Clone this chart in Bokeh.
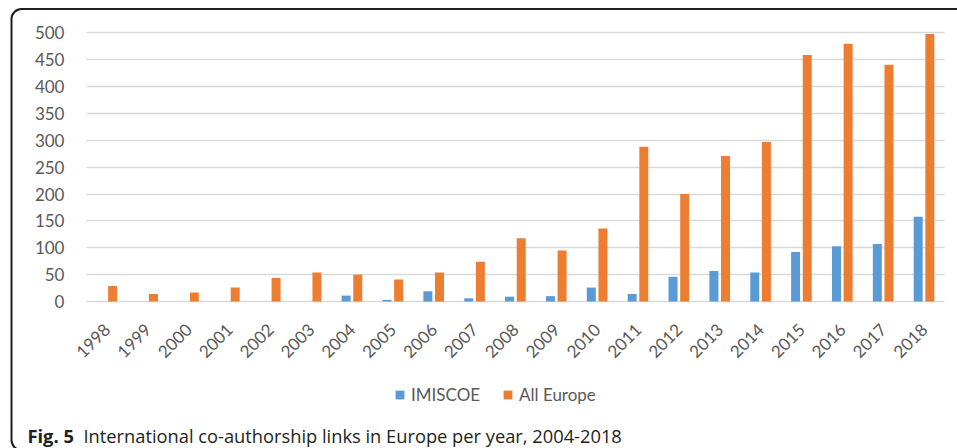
from bokeh.plotting import figure
from bokeh.models import (ColumnDataSource, Range1d, Legend, LegendItem,
                          Label, BoxAnnotation, SingleIntervalTicker, FixedTicker)
from bokeh.transform import dodge
from bokeh.embed import file_html
from bokeh.resources import INLINE
from math import pi

years = [1998, 1999, 2000, 2001, 2002, 2003, 2004, 2005, 2006, 2007, 2008,
         2009, 2010, 2011, 2012, 2013, 2014, 2015, 2016, 2017, 2018]
imiscoe = [0, 0, 0, 0, 0, 0, 11, 3, 19, 6, 9, 10, 26, 14, 46, 57, 54, 92, 103, 107, 158]
all_europe = [29, 14, 17, 26, 44, 54, 50, 41, 54, 74, 118, 95, 136, 288, 200, 271, 297, 459, 480, 441, 498]
series_names = ["IMISCOE", "All Europe"]
y_ticks_max = 500
caption_bold = "Fig. 5"
caption_text = "International co-authorship links in Europe per year, 2004-2018"

BLUE = "#5B9BD5"
ORANGE = "#ED7D31"
TXT = "#595959"
AXFONT = "Lato"
W, H = 957, 448

src = ColumnDataSource(dict(year=years, imiscoe=imiscoe, europe=all_europe))

first, last = years[0] - 0.5, years[-1] + 0.5
p = figure(width=W, height=H,
           x_range=Range1d(years[0] - 2.604, years[-1] + 0.817),
           y_range=Range1d(-273.7, 560.5),
           output_backend="svg", toolbar_location=None, min_border=0)
p.outline_line_color = None
p.background_fill_color = "white"
p.border_fill_color = "white"

r1 = p.vbar(x=dodge("year", -0.145), top="imiscoe", width=0.22,
            source=src, color=BLUE, line_color=None)
r2 = p.vbar(x=dodge("year", 0.14), top="europe", width=0.22,
            source=src, color=ORANGE, line_color=None)

p.xgrid.grid_line_color = None
p.yaxis.ticker = SingleIntervalTicker(interval=50)
p.yaxis.bounds = (0, y_ticks_max)
p.ygrid.bounds = (0, y_ticks_max)
p.ygrid.cross_bounds = (first, last)
p.ygrid.grid_line_color = "#D9D9D9"
p.ygrid.grid_line_width = 1.5

p.xaxis.ticker = FixedTicker(ticks=years)
p.xaxis.bounds = (first, last)
p.xaxis.fixed_location = 0
p.yaxis.fixed_location = first

for ax in (p.xaxis[0], p.yaxis[0]):
    ax.axis_line_color = None
    ax.major_tick_line_color = None
    ax.minor_tick_line_color = None
    ax.major_tick_out = 0
    ax.major_tick_in = 0
    ax.major_label_text_font = AXFONT
    ax.major_label_text_font_size = "17px"
    ax.major_label_text_color = TXT
p.yaxis.major_label_standoff = 18
p.xaxis.major_label_standoff = 25
p.xaxis.major_label_orientation = pi / 4

legend = Legend(items=[LegendItem(label=series_names[0], renderers=[r1]),
                       LegendItem(label=series_names[1], renderers=[r2])],
                orientation="horizontal", location=(394, 43),
                glyph_width=11, glyph_height=11, label_standoff=6, spacing=22,
                padding=0, margin=0, border_line_color=None, background_fill_alpha=0,
                label_text_font=AXFONT, label_text_font_size="17px", label_text_color=TXT)
p.add_layout(legend, "center")

p.add_layout(Label(x=27, y=H - 435, x_units="screen", y_units="screen", text=caption_bold,
                   text_font="Open Sans", text_font_style="bold", text_font_size="18.3px",
                   text_color="#231F20", text_baseline="alphabetic"))
p.add_layout(Label(x=83, y=H - 435, x_units="screen", y_units="screen", text=caption_text,
                   text_font="Open Sans", text_font_size="18.3px",
                   text_color="#231F20", text_baseline="alphabetic"))

p.add_layout(BoxAnnotation(left=11, right=W + 20, top=H - 8.5, bottom=-1.6,
                           left_units="screen", right_units="screen",
                           top_units="screen", bottom_units="screen",
                           border_radius=10, fill_alpha=0, line_color="#1E1E1E",
                           line_alpha=1.0, line_width=2))

open("out.html", "w").write(file_html(p, INLINE))
